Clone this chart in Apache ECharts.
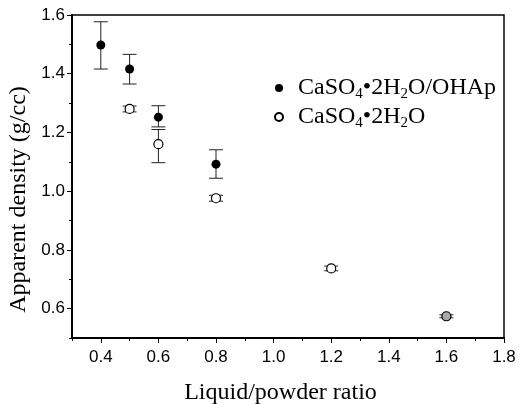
<!DOCTYPE html>
<html>
<head>
<meta charset="utf-8">
<script src="https://cdn.jsdelivr.net/npm/echarts@6/dist/echarts.min.js"></script>
<style>html,body{margin:0;padding:0;background:#fff}#c{width:520px;height:404px}</style>
</head>
<body>
<div id="c"></div>
<script>
// ---- data ----
const compositeX = [0.4, 0.5, 0.6, 0.8];
const compositeY = [1.498, 1.416, 1.252, 1.092];
const compositeErrUp = [0.079, 0.050, 0.039, 0.049];
const compositeErrDown = [0.082, 0.051, 0.033, 0.048];

const gypsumX = [0.5, 0.6, 0.8, 1.2, 1.6];
const gypsumY = [1.280, 1.160, 0.976, 0.737, 0.574];
const gypsumErrUp = [0.010, 0.050, 0.010, 0.008, 0.005];
const gypsumErrDown = [0.010, 0.063, 0.010, 0.008, 0.005];

const xMajorTicks = [0.4, 0.6, 0.8, 1.0, 1.2, 1.4, 1.6, 1.8];
const xMinorTicks = [0.3, 0.5, 0.7, 0.9, 1.1, 1.3, 1.5, 1.7];
const yMajorTicks = [0.6, 0.8, 1.0, 1.2, 1.4, 1.6];
const yMinorTicks = [0.5, 0.7, 0.9, 1.1, 1.3, 1.5];

const nameComposite = 'CaSO4•2H2O/OHAp';
const nameGypsum = 'CaSO4•2H2O';

// ---- build ----
const serif = 'Liberation Serif';
const sans = 'Liberation Sans';

function pts(xs, ys) { return xs.map((x, i) => [x, ys[i]]); }
function errs(xs, ys, up, down) { return xs.map((x, i) => [x, ys[i] - down[i], ys[i] + up[i]]); }

function errRender(params, api) {
  const x = api.value(0);
  const lo = api.coord([x, api.value(1)]);
  const hi = api.coord([x, api.value(2)]);
  const hw = 7;
  const st = { stroke: '#222', lineWidth: 1 };
  return {
    type: 'group',
    children: [
      { type: 'line', shape: { x1: lo[0], y1: lo[1], x2: hi[0], y2: hi[1] }, style: st },
      { type: 'line', shape: { x1: lo[0] - hw, y1: lo[1], x2: lo[0] + hw, y2: lo[1] }, style: st },
      { type: 'line', shape: { x1: hi[0] - hw, y1: hi[1], x2: hi[0] + hw, y2: hi[1] }, style: st }
    ]
  };
}

const gypsumData = pts(gypsumX, gypsumY).map((p, i) =>
  i === gypsumX.length - 1 ? { value: p, itemStyle: { color: '#aaa' } } : p);

const rich = {
  n: { fontSize: 24, fontFamily: serif, color: '#000', lineHeight: 28 },
  s: { fontSize: 15, fontFamily: serif, color: '#000', lineHeight: 28, verticalAlign: 'bottom' }
};

const chart = echarts.init(document.getElementById('c'), null, { renderer: 'canvas' });
chart.setOption({
  animation: false,
  backgroundColor: '#fff',
  grid: { left: 72, right: 16, top: 15, bottom: 66, show: true, borderColor: '#000', borderWidth: 1.5, containLabel: false, outerBoundsMode: 'none' },
  legend: {
    orient: 'vertical', left: 274, top: 76, itemGap: 3, padding: 0,
    itemWidth: 8, itemHeight: 8,
    data: [nameComposite, nameGypsum],
    formatter: function (name) {
      return name === nameComposite
        ? '{n|CaSO}{s|4}{n|•2H}{s|2}{n|O/OHAp}'
        : '{n|CaSO}{s|4}{n|•2H}{s|2}{n|O}';
    },
    textStyle: { rich: rich, padding: [0, 0, 0, 10] }
  },
  xAxis: [{
    type: 'value', min: 0.3, max: 1.8,
    name: 'Liquid/powder ratio', nameLocation: 'middle', nameGap: 43,
    nameTextStyle: { fontFamily: serif, fontSize: 24, color: '#000', padding: [0, 15, 0, 0] },
    axisLine: { show: true, onZero: false, lineStyle: { color: '#000', width: 2 } },
    axisTick: { show: true, length: 5, customValues: xMajorTicks, lineStyle: { color: '#000' } },
    axisLabel: { customValues: xMajorTicks, margin: 11, fontFamily: sans, fontSize: 17, color: '#000',
      formatter: v => v.toFixed(1) },
    splitLine: { show: false }
  }, {
    type: 'value', min: 0.3, max: 1.8, position: 'bottom',
    axisLine: { show: false, onZero: false },
    axisTick: { show: true, length: 3, customValues: xMinorTicks, lineStyle: { color: '#000' } },
    axisLabel: { show: false }, splitLine: { show: false }
  }],
  yAxis: [{
    type: 'value', min: 0.5, max: 1.6,
    name: 'Apparent density (g/cc)', nameLocation: 'middle', nameGap: 36,
    nameTextStyle: { fontFamily: serif, fontSize: 24, color: '#000', padding: [0, 46, 0, 0] },
    axisLine: { show: true, onZero: false, lineStyle: { color: '#000', width: 2 } },
    axisTick: { show: true, length: 5, customValues: yMajorTicks, lineStyle: { color: '#000' } },
    axisLabel: { customValues: yMajorTicks, margin: 7, fontFamily: sans, fontSize: 17, color: '#000',
      formatter: v => v.toFixed(1) },
    splitLine: { show: false }
  }, {
    type: 'value', min: 0.5, max: 1.6, position: 'left',
    axisLine: { show: false, onZero: false },
    axisTick: { show: true, length: 3, customValues: yMinorTicks, lineStyle: { color: '#000' } },
    axisLabel: { show: false }, splitLine: { show: false }
  }],
  series: [
    { type: 'custom', name: 'errComposite', renderItem: errRender, data: errs(compositeX, compositeY, compositeErrUp, compositeErrDown), z: 1, encode: { x: 0, y: [1, 2] } },
    { type: 'custom', name: 'errGypsum', renderItem: errRender, data: errs(gypsumX, gypsumY, gypsumErrUp, gypsumErrDown), z: 1, encode: { x: 0, y: [1, 2] } },
    { type: 'scatter', name: nameComposite, data: pts(compositeX, compositeY), symbol: 'circle', symbolSize: 9,
      itemStyle: { color: '#000', opacity: 1 }, z: 3 },
    { type: 'scatter', name: nameGypsum, data: gypsumData, symbol: 'circle', symbolSize: 9,
      itemStyle: { color: '#fff', borderColor: '#000', borderWidth: 1.2, opacity: 1 }, z: 3 }
  ]
});
</script>
</body>
</html>
